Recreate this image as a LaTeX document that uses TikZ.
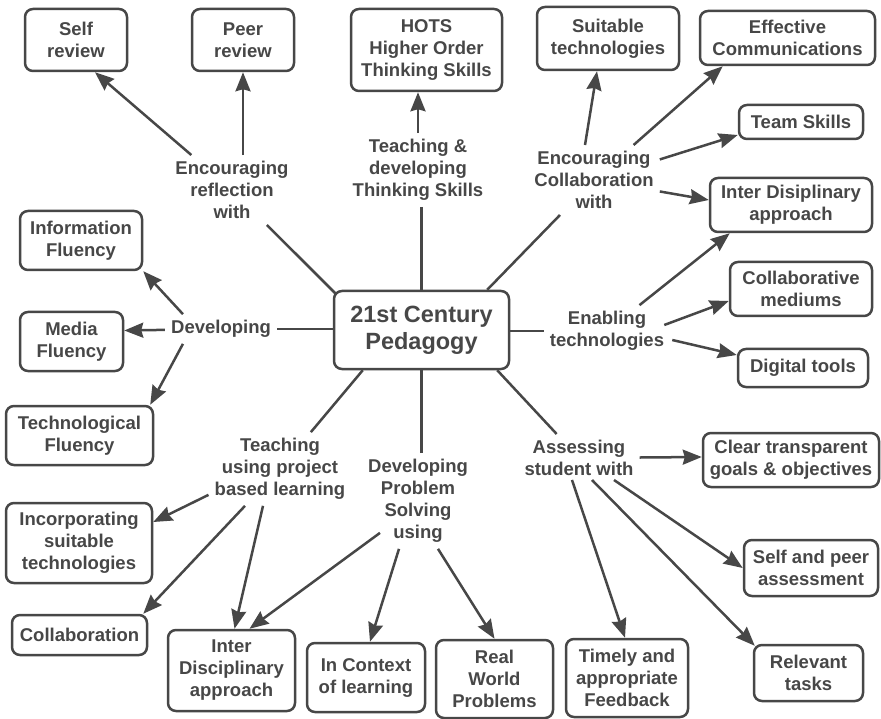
\documentclass[tikz,border=0pt]{standalone}
\usepackage{fontspec}
\setmainfont{Liberation Sans}
\usetikzlibrary{arrows.meta,calc,backgrounds}
\definecolor{ink}{HTML}{474747}
\begin{document}
\begin{tikzpicture}[x=1pt,y=-1pt,
  font=\bfseries\fontsize{18.5}{22}\selectfont,
  box/.style={draw=ink, text=ink, rounded corners=8pt, line width=2.5pt, fill=white, align=center, inner sep=2pt},
  lab/.style={text=ink, align=center, inner sep=6pt},
  con/.style={draw=ink, line width=2.5pt},
  arr/.style={draw=ink, line width=2.5pt, -{Stealth[length=19pt,width=15pt,inset=2pt]}}]
\useasboundingbox (0,0) rectangle (881,719);

% boxes
\node[box, minimum width=102, minimum height=62] (self) at (76,40) {Self\\review};
\node[box, minimum width=102, minimum height=62] (peer) at (243,40) {Peer\\review};
\node[box, minimum width=151, minimum height=82] (hots) at (426.5,50) {HOTS\\Higher Order\\Thinking Skills};
\node[box, minimum width=142, minimum height=63] (suit) at (608,38.5) {Suitable\\technologies};
\node[box, minimum width=175, minimum height=54] (eff) at (787.5,38) {Effective\\Communications};
\node[box, minimum width=124, minimum height=34] (team) at (801,122) {Team Skills};
\node[box, minimum width=162, minimum height=54] (idis) at (791,205) {Inter Disiplinary\\approach};
\node[box, minimum width=142, minimum height=54] (colm) at (801,289) {Collaborative\\mediums};
\node[box, minimum width=130, minimum height=38] (dig) at (803,368) {Digital tools};
\node[box, minimum width=176, minimum height=54] (clear) at (791,460) {Clear transparent\\goals \& objectives};
\node[box, minimum width=134, minimum height=56] (sp) at (811,568) {Self and peer\\assessment};
\node[box, minimum width=109, minimum height=56] (rel) at (808.5,673) {Relevant\\tasks};
\node[box, minimum width=122, minimum height=78] (timely) at (627,678) {Timely and\\appropriate\\Feedback};
\node[box, minimum width=117, minimum height=78] (real) at (494.5,679) {Real\\World\\Problems};
\node[box, minimum width=118, minimum height=69] (ctx) at (366,677.5) {In Context\\of learning};
\node[box, minimum width=127, minimum height=81] (idis2) at (231.5,670.5) {Inter\\Disciplinary\\approach};
\node[box, minimum width=135, minimum height=40] (colb) at (79.5,635) {Collaboration};
\node[box, minimum width=146, minimum height=80] (inc) at (79,543) {Incorporating\\suitable\\technologies};
\node[box, minimum width=147, minimum height=59] (tech) at (79.5,435.5) {Technological\\Fluency};
\node[box, minimum width=103, minimum height=59] (media) at (71.5,341.5) {Media\\Fluency};
\node[box, minimum width=122, minimum height=59] (info) at (81,240.5) {Information\\Fluency};
\node[box, minimum width=175, minimum height=78, font=\bfseries\fontsize{23.5}{27}\selectfont] (c) at (421.5,330) {21st Century\\Pedagogy};

% labels
\node[lab] (refl) at (232,190) {Encouraging\\reflection\\with};
\node[lab] (teach) at (418,170) {Teaching \&\\developing\\Thinking Skills};
\node[lab] (collab) at (594,180) {Encouraging\\Collaboration\\with};
\node[lab] (dev) at (221,329) {Developing};
\node[lab] (enab) at (607,331) {Enabling\\technologies};
\node[lab] (proj) at (280,469) {Teaching\\using project\\based learning};
\node[lab] (prob) at (418,501) {Developing\\Problem\\Solving\\using};
\node[lab] (assess) at (579,458) {Assessing\\student with};

% lines from the centre
\begin{scope}[on background layer]
\fill[white] (0,0) rectangle (881,719);
\draw[con] (refl) -- ($(c.north west)+(3,4)$);
\draw[con] (teach.south -| c.north) -- (c.north);
\draw[con] (collab) -- ($(c.north east)+(-23,0)$);
\draw[con] (dev.east) -- (dev.east -| c.west);
\draw[con] (enab.west) -- (enab.west -| c.east);
\draw[con] (proj) -- ($(c.south west)+(30,0)$);
\draw[con] (prob.north -| c.south) -- (c.south);
\draw[con] (assess) -- ($(c.south east)+(-13,0)$);
\end{scope}

% arrows
\draw[arr] (refl) -- ($(self.south)+(19,0)$);
\draw[arr] (refl.north -| peer.south) -- (peer.south);
\draw[arr] (teach.north) -- (teach.north |- hots.south);

\draw[arr] ($(collab.north)+(-9,0)$) -- ($(suit.south)+(-11,0)$);
\draw[arr] (collab) -- ($(eff.south west)+(24,0)$);
\draw[arr] (collab) -- ($(team.west)+(0,13)$);
\draw[arr] (collab) -- ($(idis.west)+(0,-5)$);

\draw[arr] (enab) -- ($(idis.south west)+(21,0)$);
\draw[arr] ($(enab.east)+(-6,-6)$) -- ($(colm.west)+(0,12)$);
\draw[arr] ($(enab.east)+(2,9)$) -- ($(dig.west)+(0,-13)$);

\draw[arr] ($(dev.north west)+(18,0)$) -- (info.south east);
\draw[arr] (dev) -- ($(media.east)+(0,-11)$);
\draw[arr] ($(dev.south west)+(18,0)$) -- ($(tech.north east)+(-4,0)$);

\draw[arr] ($(proj.south west)+(0,-11)$) -- ($(inc.east)+(0,-21)$);
\draw[arr] ($(proj.south)+(-35,0)$) -- ($(colb.north east)+(-5,0)$);
\draw[arr] ($(proj.south)+(-17,0)$) -- ($(idis2.north)+(3,0)$);

\draw[arr] ($(prob.south)+(-38,-16)$) -- ($(idis2.north)+(18,0)$);
\draw[arr] ($(prob.south)+(-19,0)$) -- ($(ctx.north)+(4,0)$);
\draw[arr] ($(prob.south)+(20,0)$) -- (real.north);

\draw[arr] (assess) -- ($(clear.west)+(0,-3)$);
\draw[arr] ($(assess.south)+(-7,-2)$) -- ($(timely.north)+(-2,0)$);
\draw[arr] ($(assess.south)+(13,-2)$) -- ($(rel.north west)+(2,2)$);
\draw[arr] ($(assess.south)+(35,-2)$) -- (sp.west);
\end{tikzpicture}
\end{document}
